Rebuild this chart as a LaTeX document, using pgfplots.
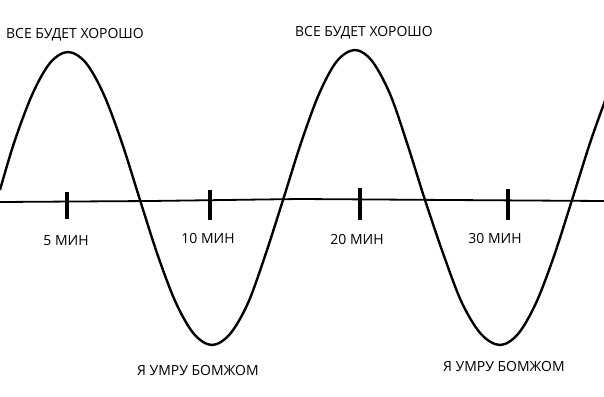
\documentclass[border=0pt]{standalone}
\usepackage{fontspec}
\setmainfont{Open Sans}
\usepackage{pgfplots}
\pgfplotsset{compat=1.18}
\begin{document}
\begin{tikzpicture}
\begin{axis}[
  scale only axis, width=604bp, height=397bp,
  xmin=0, xmax=604, ymin=0, ymax=397, y dir=reverse,
  hide axis, unbounded coords=jump,
]
\path[fill=white] (rel axis cs:0,0) rectangle (rel axis cs:1,1);
% baseline
\addplot[black, line width=1.8bp] coordinates {(0,202) (150,201) (300,199) (450,200) (604,201)};
% ticks
\addplot[black, line width=4bp] coordinates {(67,192) (67,219) (nan,nan) (210,190) (210,220) (nan,nan) (360,188) (360,220) (nan,nan) (508,189) (508,220)};
% wave
\addplot[black, line width=2.4bp, smooth, tension=0.55] coordinates {
(0,190) (14,143) (32,95) (50,63) (68,52)
(86,63) (104,95) (122,143) (140,200)
(158,256) (176,303) (194,334) (212,345)
(230,334) (248,303) (265,256) (283,200)
(301,143) (319,94) (337,61) (355,50)
(372,61) (390,94) (407,143) (425,200)
(444,256) (462,303) (481,334) (500,345)
(518,334) (536,303) (554,256) (572,200)
(590,143) (606,98)};
\begin{scope}[font=\fontsize{14}{16}\selectfont]
\node[anchor=west, inner sep=0pt] at (axis cs:6,35) {ВСЕ БУДЕТ ХОРОШО};
\node[anchor=west, inner sep=0pt] at (axis cs:295,33) {ВСЕ БУДЕТ ХОРОШО};
\node at (axis cs:66,241) {5 МИН};
\node at (axis cs:208,239) {10 МИН};
\node at (axis cs:357,240) {20 МИН};
\node at (axis cs:495,239) {30 МИН};
\node[anchor=west, inner sep=0pt] at (axis cs:137,371) {Я УМРУ БОМЖОМ};
\node[anchor=west, inner sep=0pt] at (axis cs:443,367) {Я УМРУ БОМЖОМ};
\end{scope}
\end{axis}
\end{tikzpicture}
\end{document}
